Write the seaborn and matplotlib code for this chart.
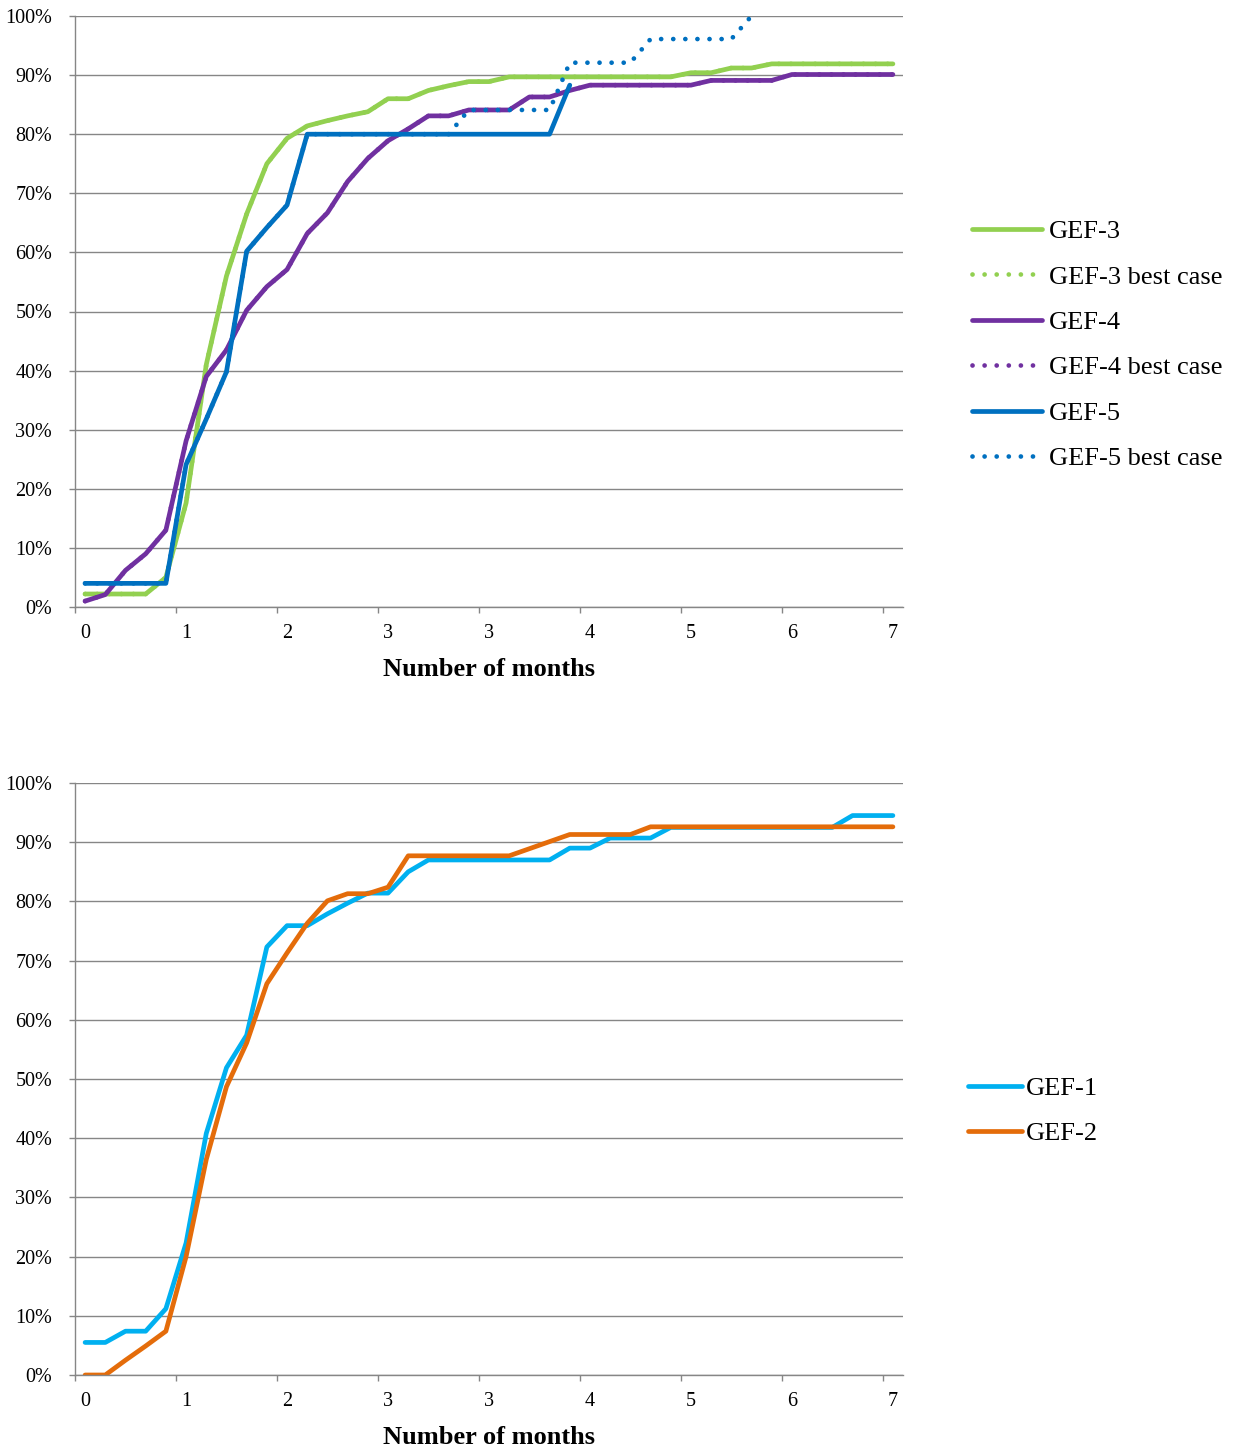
import numpy as np
import pandas as pd
import matplotlib
matplotlib.use("Agg")
import matplotlib.pyplot as plt
import seaborn as sns
from matplotlib.ticker import FixedLocator

# ---------------- data ----------------
x_tick_labels = ["0", "1", "2", "3", "3", "4", "5", "6", "7"]
y_tick_values = [0, 10, 20, 30, 40, 50, 60, 70, 80, 90, 100]

gef3 = [2.2, 2.2, 2.2, 2.2, 5.0, 17.6, 41.0, 56.0, 66.5, 75.0, 79.3, 81.4, 82.3, 83.1,
        83.8, 86.0, 86.0, 87.4, 88.2, 88.9, 88.9,
        89.7, 89.7, 89.7, 89.7, 89.7, 89.7, 89.7, 89.7, 89.7,
        90.4, 90.4, 91.2, 91.2, 91.9, 91.9, 91.9, 91.9, 91.9, 91.9, 91.9]
gef3_best = [2.2, 2.2, 2.2, 2.2, 5.0, 17.6, 41.0, 56.0, 66.5, 75.0, 79.3, 81.4, 82.3, 83.1,
             83.8, 86.0, 86.0, 87.4, 88.2, 88.9, 88.9,
             89.7, 89.7, 89.7, 89.7, 89.7, 89.7, 89.7, 89.7, 89.7,
             90.4, 90.4, 91.2, 91.2, 91.9, 91.9, 91.9, 91.9, 91.9, 91.9, 91.9]
gef4 = [1.0, 2.1, 6.2, 9.0, 13.0, 28.1, 39.0, 43.5, 50.2, 54.2, 57.1, 63.2, 66.7,
        72.0, 75.9, 78.9, 80.9, 83.1, 83.1, 84.1, 84.1, 84.1, 86.3, 86.3, 87.4,
        88.3, 88.3, 88.3, 88.3, 88.3, 88.3, 89.1, 89.1, 89.1, 89.1,
        90.1, 90.1, 90.1, 90.1, 90.1, 90.1]
gef4_best = [1.0, 2.1, 6.2, 9.0, 13.0, 28.1, 39.0, 43.5, 50.2, 54.2, 57.1, 63.2, 66.7,
             72.0, 75.9, 78.9, 80.9, 83.1, 83.1, 84.1, 84.1, 84.1, 86.3, 86.3, 87.4,
             88.3, 88.3, 88.3, 88.3, 88.3, 88.3, 89.1, 89.1, 89.1, 89.1,
             90.1, 90.1, 90.1, 90.1, 90.1, 90.1]
gef5 = [4.0, 4.0, 4.0, 4.0, 4.0, 24.1, 31.8, 39.8, 60.2, 64.2, 68.0,
        80.0, 80.0, 80.0, 80.0, 80.0, 80.0, 80.0, 80.0, 80.0, 80.0, 80.0, 80.0, 80.0,
        88.3]
gef5_best = [4.0, 4.0, 4.0, 4.0, 4.0, 24.1, 31.8, 39.8, 60.2, 64.2, 68.0,
             80.0, 80.0, 80.0, 80.0, 80.0, 80.0, 80.0, 80.0,
             84.1, 84.1, 84.1, 84.1, 84.1,
             92.1, 92.1, 92.1, 92.1,
             96.1, 96.1, 96.1, 96.1, 96.1, 100.0]

gef1 = [5.5, 5.5, 7.4, 7.4, 11.2, 22.3, 40.8, 51.9, 57.4, 72.3, 75.9, 75.9, 77.9, 79.7,
        81.4, 81.4, 85.0, 87.0, 87.0, 87.0, 87.0, 87.0, 87.0, 87.0, 89.0, 89.0,
        90.7, 90.7, 90.7, 92.5, 92.5, 92.5, 92.5, 92.5, 92.5, 92.5, 92.5, 92.5,
        94.5, 94.5, 94.5]
gef2 = [0.0, 0.0, 2.5, 4.9, 7.4, 20.0, 36.4, 48.7, 56.1, 66.1, 71.3, 76.3, 80.1, 81.3,
        81.3, 82.4, 87.7, 87.7, 87.7, 87.7, 87.7, 87.7, 88.9, 90.1, 91.3, 91.3, 91.3, 91.3,
        92.6, 92.6, 92.6, 92.6, 92.6, 92.6, 92.6, 92.6, 92.6, 92.6, 92.6, 92.6, 92.6]

top_series = [("GEF-3", gef3, "#92D050", "solid"),
              ("GEF-3 best case", gef3_best, "#92D050", "dot"),
              ("GEF-4", gef4, "#7030A0", "solid"),
              ("GEF-4 best case", gef4_best, "#7030A0", "dot"),
              ("GEF-5", gef5, "#0070C0", "solid"),
              ("GEF-5 best case", gef5_best, "#0070C0", "dot")]
bottom_series = [("GEF-1", gef1, "#00B0F0", "solid"),
                 ("GEF-2", gef2, "#E46C0A", "solid")]

# ---------------- style ----------------
sns.set_style("white")
plt.rcParams['font.family'] = ['Liberation Serif', 'DejaVu Serif']
plt.rcParams['text.color'] = 'black'
plt.rcParams['axes.labelcolor'] = 'black'
GRID = "#868686"
LW = 3.4

W, H = 1244, 1450
fig = plt.figure(figsize=(W / 100, H / 100), dpi=100)
ax1 = fig.add_axes([75 / W, 1 - 607 / H, (903 - 75) / W, (607 - 16) / H])
ax2 = fig.add_axes([75 / W, 1 - 1375 / H, (903 - 75) / W, (1375 - 783) / H])


def draw(ax, series):
    for name, vals, col, style in series:
        df = pd.DataFrame({"x": np.arange(len(vals)), "y": vals})
        if style == "solid":
            sns.lineplot(data=df, x="x", y="y", ax=ax, color=col, linewidth=LW,
                         label=name, solid_capstyle="round", solid_joinstyle="round",
                         clip_on=True)
        else:
            sns.lineplot(data=df, x="x", y="y", ax=ax, color=col, linewidth=LW,
                         label=name, linestyle=(0, (0.01, 2.55)),
                         dash_capstyle="round", clip_on=True)


def style_axes(ax):
    ax.set_xlim(-0.5, 40.5)
    ax.set_ylim(0, 100)
    ax.set_yticks(y_tick_values)
    ax.set_yticklabels([f"{v}%" for v in y_tick_values])
    ax.yaxis.grid(True, color=GRID, linewidth=1.0)
    ax.xaxis.grid(False)
    ax.set_axisbelow(True)
    major = list(range(0, 41, 5))
    ax.set_xticks(major)
    ax.set_xticklabels(x_tick_labels)
    ax.xaxis.set_minor_locator(FixedLocator([m - 0.5 for m in major]))
    ax.tick_params(axis="x", which="major", length=0, pad=12, labelsize=14.5,
                   labelcolor="black")
    ax.tick_params(axis="x", which="minor", length=4.5, width=1.0, color=GRID,
                   direction="out", bottom=True)
    ax.tick_params(axis="y", which="major", length=4.5, width=1.0, color=GRID,
                   direction="out", left=True, pad=12, labelsize=14.5,
                   labelcolor="black")
    for s in ["top", "right"]:
        ax.spines[s].set_visible(False)
    for s in ["left", "bottom"]:
        ax.spines[s].set_color(GRID)
        ax.spines[s].set_linewidth(1.0)
    ax.set_xlabel("Number of months", fontsize=19, fontweight="bold", labelpad=11,
                  color="black")
    ax.set_ylabel("")


draw(ax1, top_series)
draw(ax2, bottom_series)
style_axes(ax1)
style_axes(ax2)

leg1 = ax1.legend(loc="center left", bbox_to_anchor=(972 / W, 1 - 345 / H),
                  bbox_transform=fig.transFigure, frameon=False, fontsize=19,
                  handlelength=2.65, handletextpad=0.25, labelspacing=0.83,
                  borderpad=0, borderaxespad=0, labelcolor="black")
leg2 = ax2.legend(loc="center left", bbox_to_anchor=(968 / W, 1 - 1111 / H),
                  bbox_transform=fig.transFigure, frameon=False, fontsize=19,
                  handlelength=2.05, handletextpad=0.15, labelspacing=0.8,
                  borderpad=0, borderaxespad=0, labelcolor="black")

fig.savefig("out.png", dpi=100)
